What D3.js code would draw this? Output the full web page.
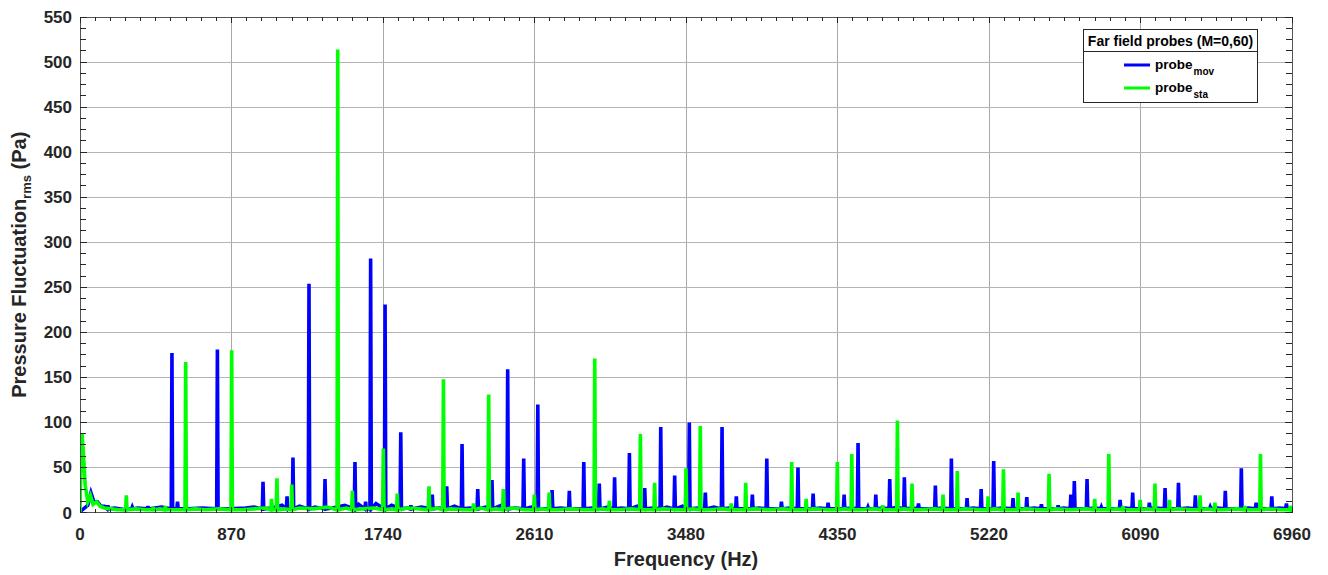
<!DOCTYPE html>
<html>
<head>
<meta charset="utf-8">
<script src="https://cdn.jsdelivr.net/npm/d3@7"></script>
<style>
  html, body { margin: 0; padding: 0; background: #fff; }
  svg { display: block; font-family: "Liberation Sans", Arial, Helvetica, sans-serif; }
</style>
</head>
<body>
<svg id="chart" width="1328" height="575"></svg>
<script>
// ---------------- data ----------------
const xTicks = [0, 870, 1740, 2610, 3480, 4350, 5220, 6090, 6960];
const yTicks = [0, 50, 100, 150, 200, 250, 300, 350, 400, 450, 500, 550];
const seriesNames = ["mov", "sta"];
const legendTitle = "Far field probes (M=0,60)";

// tonal peaks [frequency Hz, amplitude Pa]
const movPeaks = [
  [160,8],[300,6],[390,7],[528,177],[560,12],[789,181],[1051,34],[1189,18],[1223,61],
  [1315,254],[1407,37],[1579,56],[1640,12],[1669,282],[1752,231],[1842,89],[1900,8],
  [2023,20],[2106,29],[2194,76],[2284,26],[2366,36],[2456,159],[2548,60],[2629,120],
  [2711,25],[2810,24],[2893,56],[2982,32],[3070,39],[3155,66],[3243,27],[3335,95],
  [3415,41],[3499,100],[3591,22],[3687,95],[3769,18],[3861,20],[3944,60],[4028,12],
  [4123,50],[4210,21],[4296,11],[4388,20],[4468,77],[4525,6],[4570,20],[4650,37],
  [4734,39],[4815,10],[4912,30],[5004,60],[5094,16],[5175,26],[5247,57],[5358,16],
  [5437,17],[5521,9],[5617,8],[5690,20],[5710,35],[5783,37],[5865,6],[5973,14],
  [6045,22],[6141,11],[6231,27],[6308,33],[6405,19],[6490,6],[6577,24],[6669,49],
  [6754,11],[6844,18],[6928,10]
];
const staPeaks = [
  [266,19],[420,6],[490,7],[607,167],[871,180],[1100,15],[1131,38],[1216,31],[1480,514],
  [1564,24],[1742,71],[1822,21],[2004,29],[2087,148],[2260,10],[2347,131],[2431,26],
  [2609,20],[2694,22],[2956,171],[3040,13],[3218,87],[3300,33],[3480,49],[3562,96],
  [3740,10],[3823,33],[4087,56],[4170,15],[4349,56],[4432,65],[4610,8],[4694,102],
  [4778,32],[4956,20],[5038,46],[5215,18],[5303,48],[5387,22],[5565,43],[5827,15],
  [5908,65],[5990,7],[6088,14],[6173,32],[6256,14],[6432,19],[6517,11],[6690,7],
  [6779,65],[6950,7]
];
// broadband floor samples [frequency Hz, amplitude Pa]
const movFloor = [
  [0,1],[20,4],[45,8],[63,22],[80,12],[100,12],[120,7],[140,7],[200,5],[260,3],[330,5],
  [400,4],[470,6],[620,4],[700,5],[860,4],[950,5],[1000,6],[1100,5],[1160,8],[1260,7],
  [1350,6],[1450,5],[1520,8],[1600,9],[1700,10],[1790,8],[1880,5],[1960,6],[2060,5],
  [2150,7],[2240,5],[2330,6],[2420,8],[2500,5],[2590,6],[2680,4],[2760,5],[2850,4],
  [2940,5],[3030,6],[3110,5],[3200,7],[3290,5],[3370,6],[3460,7],[3550,5],[3640,6],
  [3730,5],[3810,4],[3900,5],[3990,4],[4080,5],[4170,4],[4250,5],[4340,4],[4430,5],
  [4510,4],[4610,5],[4690,6],[4780,5],[4860,4],[4950,5],[5050,4],[5130,5],[5210,4],
  [5300,5],[5400,4],[5480,5],[5570,4],[5650,5],[5750,4],[5830,5],[5920,4],[6000,5],
  [6090,4],[6180,5],[6270,4],[6360,5],[6450,4],[6530,5],[6620,4],[6710,5],[6800,4],
  [6890,5],[6960,6]
];
const staFloor = [
  [0,0],[4,40],[11,88],[18,70],[30,30],[45,12],[60,19],[75,9],[95,12],[115,7],[140,5],
  [180,4],[220,3],[320,4],[380,3],[460,4],[540,3],[660,4],[720,3],[800,4],[930,3],
  [1000,4],[1060,5],[1170,4],[1260,5],[1340,4],[1420,6],[1530,5],[1620,4],[1690,5],
  [1790,4],[1880,5],[1950,4],[2050,5],[2130,4],[2210,3],[2300,5],[2390,4],[2480,5],
  [2560,3],[2650,4],[2740,3],[2820,4],[2900,3],[3000,4],[3090,3],[3170,4],[3260,3],
  [3350,4],[3430,3],[3520,4],[3610,3],[3690,4],[3780,3],[3870,4],[3950,3],[4040,4],
  [4130,3],[4210,4],[4300,3],[4390,4],[4480,3],[4560,4],[4650,3],[4730,4],[4820,3],
  [4910,4],[5000,3],[5080,4],[5170,3],[5250,4],[5340,3],[5430,4],[5510,3],[5600,4],
  [5690,3],[5780,4],[5860,3],[5950,4],[6040,3],[6130,4],[6210,3],[6300,4],[6390,3],
  [6470,4],[6560,3],[6640,4],[6730,3],[6820,4],[6900,3],[6960,5]
];
const movBase = 4;   // floor level at the foot of each peak
const staBase = 3;

// ---------------- layout ----------------
const M = { left: 80, top: 17, right: 1292, bottom: 512.5 };
const svg = d3.select("#chart");
const x = d3.scaleLinear().domain([0, 6960]).range([M.left, M.right]);
const y = d3.scaleLinear().domain([0, 550]).range([M.bottom, M.top]);
const W = M.right - M.left, H = M.bottom - M.top;
const axisColor = "#262626";

svg.append("rect").attr("width", 1328).attr("height", 575).attr("fill", "#fff");

// grid
const g = svg.append("g");
g.selectAll(".gx").data(xTicks.slice(1, -1)).join("line")
  .attr("x1", d => x(d)).attr("x2", d => x(d)).attr("y1", M.top).attr("y2", M.bottom)
  .attr("stroke", "#a8a8a8").attr("stroke-width", 1).attr("shape-rendering", "crispEdges");
g.selectAll(".gy").data(yTicks.slice(1, -1)).join("line")
  .attr("y1", d => y(d)).attr("y2", d => y(d)).attr("x1", M.left).attr("x2", M.right)
  .attr("stroke", "#b4b4b4").attr("stroke-width", 1).attr("shape-rendering", "crispEdges");

// series
svg.append("clipPath").attr("id", "clip").append("rect")
  .attr("x", M.left).attr("y", M.top - 2).attr("width", W + 1).attr("height", H + 2);

function buildSeries(peaks, floor, base) {
  const pts = floor.map(d => d.slice());
  peaks.forEach(([f, a]) => {
    pts.push([f - 4, base], [f, a], [f + 4, base]);
  });
  pts.sort((a, b) => a[0] - b[0]);
  return pts;
}
const line = d3.line().x(d => x(d[0])).y(d => y(d[1]));
const plot = svg.append("g").attr("clip-path", "url(#clip)");
plot.append("path").datum(buildSeries(movPeaks, movFloor, movBase))
  .attr("d", line).attr("fill", "none").attr("stroke", "#0000ff")
  .attr("stroke-width", 3.6).attr("stroke-linejoin", "miter");
plot.append("path").datum(buildSeries(staPeaks, staFloor, staBase))
  .attr("d", line).attr("fill", "none").attr("stroke", "#00ff00")
  .attr("stroke-width", 3.6).attr("stroke-linejoin", "miter");

// box
svg.append("rect").attr("x", M.left).attr("y", M.top).attr("width", W).attr("height", H)
  .attr("fill", "none").attr("stroke", "#555").attr("stroke-width", 1)
  .attr("shape-rendering", "crispEdges");

// ticks (inside, on all sides)
const xMinor = d3.range(0, 6961, 87);
const yMinor = d3.range(0, 550.1, 12.5);
const tk = svg.append("g").attr("stroke", axisColor).attr("stroke-width", 1)
  .attr("shape-rendering", "crispEdges");
xMinor.forEach(v => {
  const major = xTicks.includes(v);
  const len = major ? 6 : 4;
  tk.append("line").attr("x1", x(v)).attr("x2", x(v)).attr("y1", M.bottom).attr("y2", M.bottom - len);
  tk.append("line").attr("x1", x(v)).attr("x2", x(v)).attr("y1", M.top).attr("y2", M.top + len);
});
yMinor.forEach(v => {
  const major = yTicks.includes(v);
  const len = major ? 7 : 6;
  tk.append("line").attr("y1", y(v)).attr("y2", y(v)).attr("x1", M.left).attr("x2", M.left + len);
  tk.append("line").attr("y1", y(v)).attr("y2", y(v)).attr("x1", M.right).attr("x2", M.right - len);
});

// tick labels
svg.append("g").selectAll("text").data(xTicks).join("text")
  .attr("x", d => x(d)).attr("y", 540).attr("text-anchor", "middle")
  .attr("font-size", 17).attr("font-weight", "bold").attr("fill", axisColor)
  .text(d => d);
svg.append("g").selectAll("text").data(yTicks).join("text")
  .attr("x", 72).attr("y", d => y(d) + 6).attr("text-anchor", "end")
  .attr("font-size", 17).attr("font-weight", "bold").attr("fill", axisColor)
  .text(d => d);

// axis titles
svg.append("text").attr("x", (M.left + M.right) / 2).attr("y", 566)
  .attr("text-anchor", "middle").attr("font-size", 20).attr("font-weight", "bold")
  .attr("fill", axisColor).text("Frequency (Hz)");
const yt = svg.append("text")
  .attr("transform", `translate(26,${(M.top + M.bottom) / 2}) rotate(-90)`)
  .attr("text-anchor", "middle").attr("font-size", 20).attr("font-weight", "bold")
  .attr("fill", axisColor);
yt.append("tspan").text("Pressure Fluctuation");
yt.append("tspan").attr("font-size", 13).attr("dy", 5).text("rms");
yt.append("tspan").attr("dy", -5).text(" (Pa)");

// legend
const lg = svg.append("g");
lg.append("rect").attr("x", 1083.5).attr("y", 29.5).attr("width", 174).attr("height", 73)
  .attr("fill", "#fff").attr("stroke", axisColor).attr("stroke-width", 1);
lg.append("line").attr("x1", 1083.5).attr("x2", 1257.5).attr("y1", 51.5).attr("y2", 51.5)
  .attr("stroke", axisColor).attr("stroke-width", 1);
lg.append("text").attr("x", 1170.5).attr("y", 46).attr("text-anchor", "middle")
  .attr("font-size", 14).attr("font-weight", "bold").attr("fill", "#000").text(legendTitle);
const legColors = ["#0000ff", "#00ff00"];
seriesNames.forEach((name, i) => {
  const cy = 65 + i * 23;
  lg.append("line").attr("x1", 1124).attr("x2", 1150).attr("y1", cy).attr("y2", cy)
    .attr("stroke", legColors[i]).attr("stroke-width", 3);
  const t = lg.append("text").attr("x", 1155).attr("y", cy + 4)
    .attr("font-size", 13.5).attr("font-weight", "bold").attr("fill", "#000");
  t.append("tspan").text("probe");
  t.append("tspan").attr("font-size", 10).attr("dy", 6).attr("dx", 1).text(name);
});
</script>
</body>
</html>
